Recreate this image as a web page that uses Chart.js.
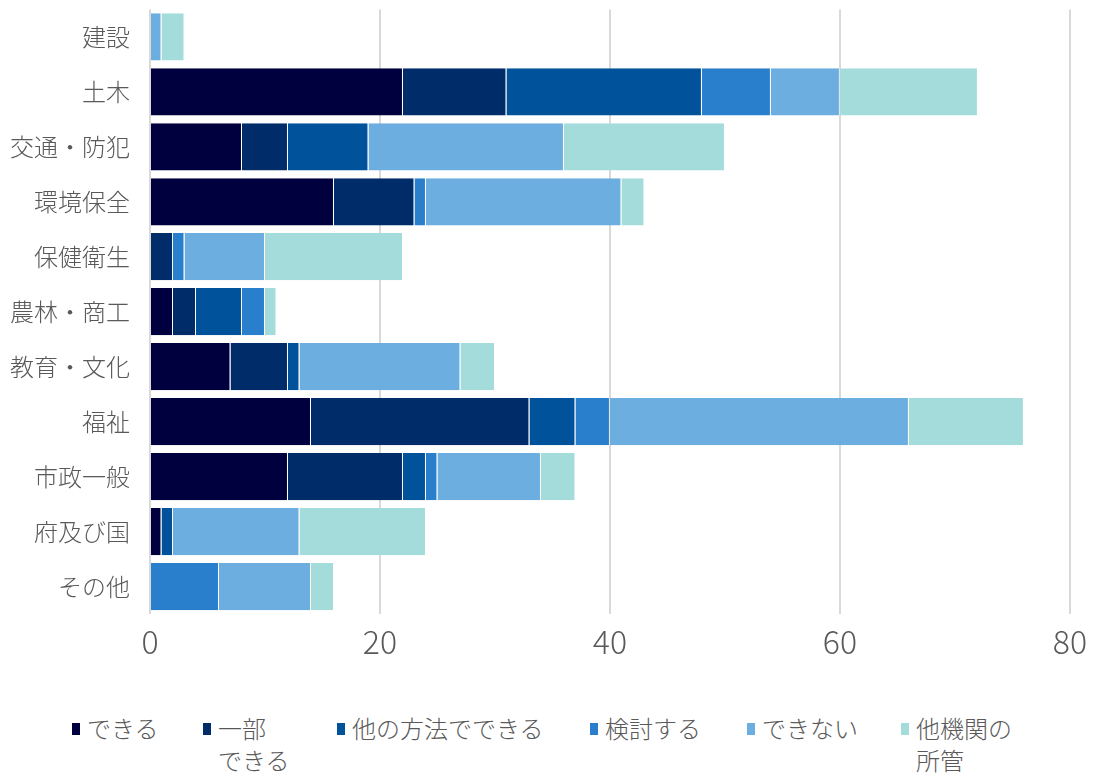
<!DOCTYPE html>
<html>
<head>
<meta charset="utf-8">
<script src="https://cdn.jsdelivr.net/npm/chart.js@4.4.1/dist/chart.umd.min.js"></script>
<style>
  body { margin: 0; background: #fff; font-family: "Noto Sans CJK JP", sans-serif; overflow: hidden; }
  #wrap { position: relative; width: 1096px; height: 776px; overflow: hidden; }
  #chartBox { position: absolute; left: 0; top: -25px; width: 1096px; height: 709px; }
  .leg { position: absolute; top: 712px; font-size: 24px; font-weight: 300; color: #595959; line-height: 32px; }
  .leg i { position: absolute; left: -15px; top: 11px; width: 8px; height: 12px; }
</style>
</head>
<body>
<div id="wrap">
  <div id="chartBox"><canvas id="chart"></canvas></div>
  <div id="legend"></div>
</div>
<script>
// Categories (top to bottom)
const categories = ['建設', '土木', '交通・防犯', '環境保全', '保健衛生', '農林・商工', '教育・文化', '福祉', '市政一般', '府及び国', 'その他'];

// Series values, one per category
const dekiru      = [0, 22, 8, 16, 0, 2, 7, 14, 12, 1, 0];
const ichibu      = [0, 9, 4, 7, 2, 2, 5, 19, 10, 0, 0];
const hokaHouhou  = [0, 17, 7, 0, 0, 4, 1, 4, 2, 1, 0];
const kentou      = [0, 6, 0, 1, 1, 2, 0, 3, 1, 0, 6];
const dekinai     = [1, 6, 17, 17, 7, 0, 14, 26, 9, 11, 8];
const takikan     = [2, 12, 14, 2, 12, 1, 3, 10, 3, 11, 2];

const xTicks = [0, 20, 40, 60, 80];

const seriesNames = ['できる', ['一部', 'できる'], '他の方法でできる', '検討する', 'できない', ['他機関の', '所管']];
const seriesColors = ['#00003f', '#002c6a', '#00529b', '#2a7fcc', '#6caee0', '#a4dbdb'];
const seriesData = [dekiru, ichibu, hokaHouhou, kentou, dekinai, takikan];

const datasets = seriesData.map((d, i) => ({
    label: Array.isArray(seriesNames[i]) ? seriesNames[i].join('') : seriesNames[i],
    data: d,
    backgroundColor: seriesColors[i],
    borderColor: 'rgba(255,255,255,0.35)',
    borderWidth: { left: 0, right: 1, top: 0, bottom: 0 },
    borderSkipped: false,
    barPercentage: 0.86,
    categoryPercentage: 1.0
}));

const ctx = document.getElementById('chart').getContext('2d');
new Chart(ctx, {
    type: 'bar',
    data: { labels: categories, datasets: datasets },
    options: {
        indexAxis: 'y',
        responsive: true,
        maintainAspectRatio: false,
        animation: false,
        layout: { padding: { top: 8, right: 25, left: 0, bottom: 0 } },
        plugins: {
            legend: { display: false },
            tooltip: { enabled: false }
        },
        scales: {
            x: {
                stacked: true,
                min: 0,
                max: 80,
                afterBuildTicks: (scale) => { scale.ticks = xTicks.map(v => ({ value: v })); },
                grid: { color: '#d9d9d9', lineWidth: 2, drawTicks: false },
                border: { display: false },
                ticks: {
                    color: '#595959',
                    font: { family: 'Noto Sans CJK JP', size: 32, weight: '300' },
                    padding: 9
                },
                afterFit: (scale) => { scale.height = 70; }
            },
            y: {
                stacked: true,
                grid: { display: false, drawTicks: false },
                border: { display: false },
                ticks: {
                    color: '#595959',
                    font: { family: 'Noto Sans CJK JP', size: 24, weight: '300' },
                    padding: 20
                },
                afterFit: (scale) => { scale.width = 150; }
            }
        }
    }
});

// HTML legend (labels wrap onto two lines like the original)
const legendX = [87, 218, 352, 605, 762, 916];
const legendBox = document.getElementById('legend');
seriesNames.forEach((name, i) => {
    const el = document.createElement('div');
    el.className = 'leg';
    el.style.left = legendX[i] + 'px';
    const lines = Array.isArray(name) ? name : [name];
    el.innerHTML = '<i style="background:' + seriesColors[i] + '"></i>' + lines.join('<br>');
    legendBox.appendChild(el);
});
</script>
</body>
</html>
